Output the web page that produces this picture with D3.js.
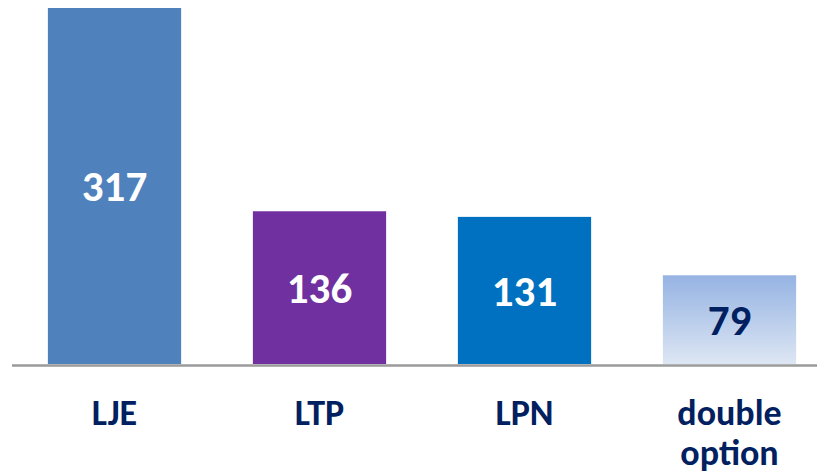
<!DOCTYPE html>
<html><head><meta charset="utf-8">
<script src="https://cdn.jsdelivr.net/npm/d3@7"></script>
<style>
html,body{margin:0;padding:0;background:#fff;}
svg{display:block;}
text{font-family:Carlito,'Liberation Sans Narrow','Open Sans',sans-serif;font-weight:bold;}
</style></head>
<body>
<svg id="chart" width="817" height="476"></svg>
<script>
const categories = ["LJE", "LTP", "LPN", "double option"];
const values = [317, 136, 131, 79];
const barColors = ["#4F81BD", "#7030A0", "#0070C0", "url(#grad)"];
const valueColors = ["#ffffff", "#ffffff", "#ffffff", "#002060"];

const svg = d3.select("#chart");
const defs = svg.append("defs");
const g = defs.append("linearGradient").attr("id","grad").attr("x1",0).attr("y1",0).attr("x2",0).attr("y2",1);
g.append("stop").attr("offset","0%").attr("stop-color","#95B3E3");
g.append("stop").attr("offset","100%").attr("stop-color","#DDE6F3");

const x = d3.scaleBand().domain(categories).range([12, 832]).paddingInner(0.35).paddingOuter(0.175);
const y = d3.scaleLinear().domain([0, 317]).range([364, 8]);

svg.selectAll("rect.bar").data(categories).enter().append("rect")
  .attr("class","bar")
  .attr("x", d => x(d))
  .attr("width", x.bandwidth())
  .attr("y", (d,i) => y(values[i]))
  .attr("height", (d,i) => y(0) - y(values[i]))
  .attr("fill", (d,i) => barColors[i]);

svg.append("line").attr("x1",12).attr("x2",817).attr("y1",365.5).attr("y2",365.5)
  .attr("stroke","#9a9a9a").attr("stroke-width",2.5);

svg.selectAll("text.val").data(categories).enter().append("text")
  .attr("class","val")
  .attr("x", d => x(d) + x.bandwidth()/2)
  .attr("y", (d,i) => (y(values[i]) + y(0))/2)
  .attr("dy","0.36em")
  .attr("text-anchor","middle")
  .attr("font-size", 43)
  .attr("fill", (d,i) => valueColors[i])
  .text((d,i) => values[i]);

const lab = svg.selectAll("text.cat").data(categories).enter().append("text")
  .attr("class","cat")
  .attr("x", d => x(d) + x.bandwidth()/2)
  .attr("y", 425)
  .attr("text-anchor","middle")
  .attr("font-size", 36)
  .attr("fill", "#002060");
lab.each(function(d){
  const words = d.split(" ");
  const t = d3.select(this);
  words.forEach((w,i) => {
    t.append("tspan").attr("x", x(d) + x.bandwidth()/2).attr("dy", i === 0 ? 0 : 40).text(w);
  });
});
</script>
</body></html>
